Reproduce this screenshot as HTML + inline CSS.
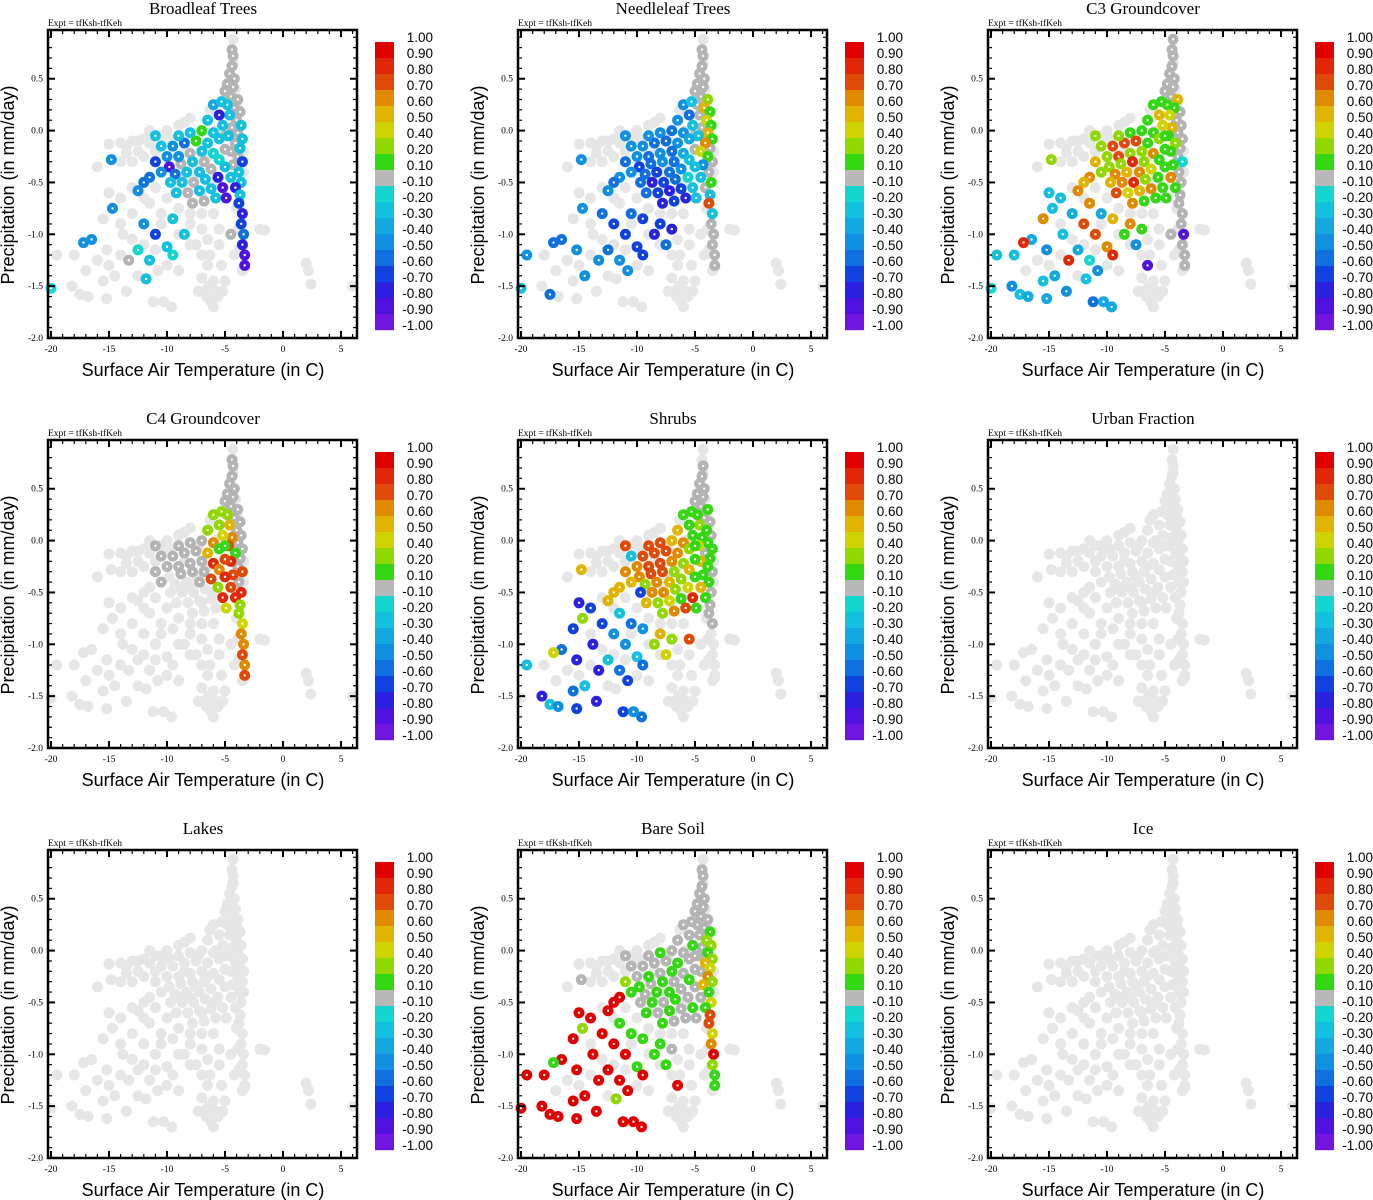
<!DOCTYPE html>
<html><head><meta charset="utf-8"><style>
html,body{margin:0;padding:0;background:#fff;}
svg{display:block;}
</style></head><body>
<svg id="fig" width="1373" height="1200" viewBox="0 0 1373 1200" xmlns="http://www.w3.org/2000/svg"></svg>
<script>
const _ = null;
const panelTitles = ["Broadleaf Trees","Needleleaf Trees","C3 Groundcover","C4 Groundcover","Shrubs","Urban Fraction","Lakes","Bare Soil","Ice"];
const xTicks = [-20,-15,-10,-5,0,5];
const yTicks = [0.5,0.0,-0.5,-1.0,-1.5,-2.0];
const yTickLabels = ["0.5","0.0","-0.5","-1.0","-1.5","-2.0"];
const cbLabels = ["1.00","0.90","0.80","0.70","0.60","0.50","0.40","0.20","0.10","-0.10","-0.20","-0.30","-0.40","-0.50","-0.60","-0.70","-0.80","-0.90","-1.00"];
const cbColors = ["#e00000","#e02808","#e04a08","#e08a00","#e0b400","#cfd400","#90d800","#34d812","#b8b8b8","#12d6cf","#14c0e0","#12a8e0","#1090e0","#1070e0","#1042e0","#2a20e0","#5012e0","#7214e0"];
// background grid cells (no-data cloud, light gray)
const fillX = [-12.5,-11.5,-10.5,-9.8,-13.5,-12,-11,-14,-13,-10,-9,-8.5,-8,
 -13,-12,-11,-10,-9,-8,-7,-6,-10.5,-9,-8,-7,-6.5,-5.5,-14,-13,-12,-11,-10,-9,-12.5,-14,-16,-15,-17,
 -6.6,-6.0,-5.8,-6.4,-7.3,-5.2,
 -4.0,-3.9,-3.8,-4.3,-4.1,-4.0,-3.4,-3.4,
 -6.5,-7.5,-8.5,-6,-7,-8,-9,-5.8,-6.3,-7.3];
const fillY = [-0.1,-0.12,-0.05,-0.08,-0.15,-0.25,-0.2,-0.3,-0.3,0.0,0.05,0.08,0.12,
 -0.55,-0.65,-0.55,-0.65,-0.75,-0.8,-0.8,-0.8,-0.9,-1.0,-1.1,-1.2,-1.05,-1.1,-0.9,-1.05,-1.1,-1.15,-1.3,-1.35,-1.4,-1.2,-1.25,-1.3,-1.35,
 -1.6,-1.7,-1.55,-1.5,-1.55,-1.55,
 -0.75,-0.95,-1.15,0.65,0.4,0.25,-0.2,-0.4,
 -0.25,-0.35,-0.2,-0.5,-0.6,-0.45,-0.45,0.0,0.2,-0.05];
const baseX = [-4.3,-4.4,-4.3,-4.4,-4.6,-4.2,-4.8,-4.3,-5.0,-4.5,-3.9,-4.8,-4.2,-3.7,-4.6,-4.0,-3.6,-4.4,-3.9,-4.7,-3.5,-4.1,-3.7,-4.5,-3.9,-3.5,-4.3,-3.8,-4.5,-3.6,-4.1,-3.7,
 -3.8,-3.5,-3.6,-3.4,-3.5,-3.3,-3.3,
 -6.0,-5.5,-6.5,-5.2,-7.0,-6.0,-8.0,-5.5,-7.5,-6.5,-8.5,-9.5,-5.0,-7.0,-6.0,-8.0,-9.0,-10.0,-5.5,-6.8,-7.8,-8.8,-9.8,-5.0,-6.2,-7.2,-8.3,-9.3,-10.5,-5.6,-6.7,-7.7,-8.7,-9.7,-5.2,-6.2,-7.2,-8.2,-9.2,-5.8,-6.8,-7.8,-4.9,-5.0,-5.3,-9.0,-10.5,-11.0,-11.5,-12.0,
 -13,-14,-15,-12,-11,-12.5,-13.5,-14.8,-16,-11.5,
 -15,-14,-12.5,-11.5,-13,-15.5,-14.7,-12,-10.5,-9.5,-11,-13.8,-16.5,-15.2,-12.5,-10,-8.5,-9.5,-11.5,-13.3,-17.2,-18,-8,-7,-7.5,-10.8,-14.5,
 -20,-19.5,-18.2,-17.5,-16.8,-15.5,-15.2,-13.5,-11.8,-11.2,-9.6,-10.3,
 -6.5,-6.0,-6.8,-6.2,-5.6,-7.0,-5.3,-5.0,-6.3,-4.2,-3.5,
 -2.0,-1.6,2.0,2.2,2.4,6.0,-3.3,-5.5,-4.5];
const baseY = [0.88,0.78,0.72,0.62,0.55,0.5,0.45,0.42,0.38,0.33,0.3,0.25,0.22,0.18,0.15,0.1,0.05,0.03,-0.02,-0.05,-0.08,-0.12,-0.17,-0.2,-0.25,-0.3,-0.33,-0.4,-0.45,-0.5,-0.55,-0.62,
 -0.7,-0.8,-0.9,-1.0,-1.1,-1.2,-1.3,
 0.25,0.15,0.1,0.05,0.0,-0.02,-0.02,-0.08,-0.1,-0.12,-0.12,-0.15,-0.18,-0.2,-0.22,-0.22,-0.25,-0.25,-0.28,-0.3,-0.3,-0.32,-0.35,-0.35,-0.37,-0.4,-0.4,-0.42,-0.4,-0.45,-0.47,-0.5,-0.5,-0.5,-0.55,-0.56,-0.58,-0.6,-0.6,-0.65,-0.68,-0.7,-0.65,-0.05,0.28,-0.05,-0.15,-0.3,-0.45,-0.5,
 -0.1,-0.12,-0.13,-0.08,-0.05,-0.2,-0.22,-0.28,-0.35,0.0,
 -0.6,-0.65,-0.58,-0.7,-0.8,-0.85,-0.75,-0.9,-0.8,-0.85,-1.0,-1.0,-1.05,-1.15,-1.15,-1.12,-1.0,-1.2,-1.25,-1.25,-1.08,-1.2,-0.9,-0.95,-1.1,-1.35,-1.4,
 -1.52,-1.2,-1.5,-1.58,-1.6,-1.45,-1.62,-1.55,-1.43,-1.65,-1.7,-1.65,
 -1.3,-1.45,-1.55,-1.65,-1.6,-1.42,-1.3,-1.45,-1.2,-1.2,-1.35,
 -0.95,-0.96,-1.28,-1.35,-1.48,-1.5,-1.32,-0.95,-1.0];
const broadleafVals = [_,0,0,0,0,0,0,0,0,0,0,-0.3,0,0,-0.25,0,-0.3,0,0,-0.25,-0.3,0,-0.25,0,0,-0.7,0,-0.3,-0.25,-0.3,-0.8,-0.25,
 -0.7,-0.75,-0.7,-0.6,-0.8,-0.85,-0.9,
 -0.4,-0.8,-0.3,-0.25,0.15,-0.25,-0.3,-0.3,0.15,-0.25,-0.6,-0.45,0,-0.25,-0.2,0,-0.5,-0.5,-0.2,0,-0.25,0,-0.85,-0.3,0,-0.25,-0.25,-0.6,-0.5,-0.8,-0.25,0,-0.3,-0.25,-0.85,-0.3,-0.3,0,-0.25,-0.25,0,0,-0.9,0,-0.3,-0.25,-0.3,-0.7,-0.55,-0.55,
 _,_,_,_,-0.3,_,_,-0.5,_,_,
 _,_,-0.45,_,_,_,-0.5,-0.5,_,-0.3,-0.7,_,-0.5,_,-0.2,-0.25,-0.25,-0.2,-0.3,0,-0.5,_,_,_,_,_,_,
 -0.2,_,_,_,_,_,_,_,-0.3,_,_,_,
 _,_,_,_,_,_,_,_,_,_,_,
 _,_,_,_,_,_,_,_,0];
const needleleafVals = [_,0,0,0,0,0,0,0,0,0,0.2,0,0.5,0.15,0,0.4,0.15,0,0.5,-0.3,0.15,0.6,0,0.4,0.15,0,-0.5,0,-0.3,0.15,0,-0.25,
 0.7,-0.3,0,0,0,0,0,
 -0.5,-0.6,-0.5,-0.3,-0.6,-0.5,-0.5,-0.4,-0.6,-0.5,-0.6,-0.5,0,-0.6,-0.4,-0.5,-0.6,-0.5,-0.3,-0.6,-0.5,-0.6,-0.7,-0.3,-0.5,-0.6,-0.7,-0.6,-0.5,-0.2,-0.6,-0.7,-0.8,-0.6,-0.3,-0.7,-0.8,-0.7,-0.6,-0.8,-0.7,-0.8,-0.3,0,-0.3,-0.5,-0.5,-0.6,-0.5,-0.6,
 _,_,_,_,-0.5,_,_,-0.5,_,_,
 _,_,-0.5,_,-0.6,_,-0.5,-0.7,-0.6,-0.7,-0.7,_,-0.6,-0.5,-0.6,-0.7,-0.8,-0.7,-0.5,-0.5,-0.6,_,-0.7,-0.8,-0.6,-0.5,-0.5,
 -0.3,-0.5,_,-0.6,_,_,_,_,_,_,_,_,
 _,_,_,_,_,_,_,_,_,_,_,
 _,_,_,_,_,_,_,_,_];
const c3Vals = [0,0,0,0,0,0,0,0,0,0,0.5,0.1,0.15,0,0.45,0,0,0.5,0,0.15,0,0.2,0,0.1,0,-0.2,0.1,0,0.6,0,0.15,0,
 0,0,0,-0.9,0,0,0,
 0.15,0.5,0.1,0.45,0.1,0.15,0.1,0.3,0.7,0.15,0.75,0.7,0.1,0.2,0.6,0.3,0.75,0.3,0.1,0.2,0.8,0.3,0.2,0.1,0.4,0.6,0.5,0.65,0.3,0.15,0.3,0.8,0.6,0.5,0.1,0.6,0.5,0.45,0.7,0.1,0.15,0.6,0.1,0.1,0.15,0.3,0.3,0.5,0.6,0.55,
 _,_,_,_,0.3,_,_,0.3,_,_,
 -0.3,-0.3,0.6,0.6,-0.4,0.6,-0.3,0.7,-0.4,0.55,0.7,-0.3,-0.4,-0.5,-0.4,0.6,0.15,0.8,-0.2,0.8,0.85,-0.3,0.6,0.1,-0.5,-0.5,-0.4,
 -0.2,-0.3,-0.5,-0.3,-0.4,-0.3,-0.4,-0.5,-0.3,-0.6,-0.4,-0.4,
 -0.9,_,_,_,_,_,_,_,_,_,_,
 _,_,_,_,_,_,_,_,0];
const c4Vals = [_,0,0,0,0,0,0,0,0,0,0,0.3,0,0,0.5,0,0,0.6,0,0.7,0,0.15,0,0.8,0,0.7,0.75,0,0.7,0.8,0.85,0.3,
 0.3,0.4,0.6,0.6,0.7,0.65,0.75,
 0.2,0.3,0.2,0.45,0,0.6,0,0.15,0,0.5,0,0,0.7,0,0.8,0,0,0,0.6,0,0,0,_,0.8,0.7,0,_,_,0,0.2,_,_,_,_,0.8,_,_,_,_,_,_,_,0.4,0.15,0.2,0,0,0,_,_,
 _,_,_,_,0,_,_,_,_,_,
 _,_,_,_,_,_,_,_,_,_,_,_,_,_,_,_,_,_,_,_,_,_,_,_,_,_,_,
 _,_,_,_,_,_,_,_,_,_,_,_,
 _,_,_,_,_,_,_,_,_,_,_,
 _,_,_,_,_,_,_,_,_];
const shrubVals = [_,_,0,0,0,0,0,0,0,0,0.1,0.15,0,0,0.2,0.1,0,0.15,0.1,0.4,0.1,0,0.1,0.5,0.1,0,0.15,0.1,0.5,0,0.15,0,
 0,0,_,_,_,_,_,
 0.15,0.15,0.5,0.15,0.5,0.6,0.7,0.2,0.75,0.6,0.7,0.7,0.15,0.6,0.2,0.75,0.7,0.6,0.5,0.2,0.7,0.75,0.6,0.15,0.2,0.5,0.65,0.2,0.55,0.45,0.2,0.65,0.6,-0.7,0.8,0.15,0.4,0.2,0.55,0.7,0.6,0.2,0.15,0.1,0.15,0.7,-0.3,0.6,0.55,0.5,
 _,_,_,_,0.75,_,_,0.55,_,_,
 -0.8,-0.7,0.5,-0.3,-0.7,-0.7,0.2,-0.5,-0.6,-0.5,-0.5,-0.8,-0.6,-0.8,-0.3,-0.3,0.2,-0.6,-0.6,-0.8,0.45,_,0.5,0.3,0.4,-0.7,-0.3,
 _,-0.3,-0.75,-0.3,-0.5,-0.6,-0.7,-0.8,_,-0.7,-0.6,-0.5,
 _,_,_,_,_,_,_,_,_,_,_,
 _,_,_,_,_,_,_,0.75,_];
const urbanVals = [];
const lakeVals = [];
const bareVals = [_,0,0,0,0,0,0,0,0,0,0,0,0,0.15,0,0.2,0.2,0,0.15,0,0.2,0.5,0.4,0,0.6,0.2,0.5,0.15,0,0.4,0.15,0.75,
 0.7,0.4,0.6,0.9,0.2,0.15,0.1,
 0,0,0,0.15,0,0,0.15,0,0,0.15,0,0,0,0.15,0,0,0.15,0,0.15,0,0.15,0,0.15,0,0,0.15,0.15,0,0.15,0,0.15,0,0.15,0,0.15,0,0.15,0,0.15,0,0,0.15,0,0,0,0,0,0.3,0.9,0.9,
 _,_,_,_,0,_,_,0,_,_,
 0.9,0.9,0.9,0.15,0.9,0.9,0.3,0.9,0.15,0.15,0.9,0.9,0.9,0.9,0.9,0.15,0.15,0.9,0.9,0.9,0.15,0.9,0.15,0,0.15,0.9,0.9,
 0.9,0.9,0.9,0.9,0.9,0.9,0.9,0.9,0.3,0.9,0.9,0.9,
 0.9,_,_,_,_,_,_,_,_,_,_,
 _,_,_,_,_,_,_,_,_];
const iceVals = [];
const panelVals = [broadleafVals,needleleafVals,c3Vals,c4Vals,shrubVals,urbanVals,lakeVals,bareVals,iceVals];
const panelNames = ["broadleaf","needleleaf","c3","c4","shrubs","urban","lakes","bare-soil","ice"];

const NS = "http://www.w3.org/2000/svg";
const svg = document.getElementById("fig");
function mk(tag, attrs, parent){ const e=document.createElementNS(NS,tag); for(const k in attrs) e.setAttribute(k,attrs[k]); (parent||svg).appendChild(e); return e; }
const XMIN=-20.26, XMAX=6.38, YMIN=-2.0, YMAX=0.97;
const BOXW=309, BOXH=308;
const R=5.5;
function colorFor(v){
  if(v===null||v===undefined) return "#e6e6e6";
  if(Math.abs(v)<0.1) return "#b4b4b4";
  let bin;
  if(v>=0.4) bin = 9-Math.floor(v*10+1e-6);
  else if(v>=0.2) bin=6;
  else if(v>0) bin=7;
  else bin = 7+Math.ceil(-v*10-1e-6);
  bin=Math.max(0,Math.min(17,bin));
  return cbColors[bin];
}
for(let p=0;p<9;p++){
  const ox = 48 + (p%3)*470, oy = 30 + Math.floor(p/3)*410;
  const sx = x => ox + (x-XMIN)/(XMAX-XMIN)*BOXW;
  const sy = y => oy + (YMAX-y)/(YMAX-YMIN)*BOXH;
  const g = mk("g",{});
  
  
  const t = mk("text",{x:ox+155,y:oy-16,"text-anchor":"middle","font-family":"Liberation Serif, serif","font-size":"17"},g);
  t.textContent = panelTitles[p];
  
  
  const ex = mk("text",{x:ox,y:oy-4,"font-family":"Liberation Serif, serif","font-size":"9.5"},g);
  ex.textContent = "Expt = tfKsh-tfKeh";
  
  
  const vals = panelVals[p];
  const pts = mk("g",{},g);
  
  
  for(let i=0;i<fillX.length;i++){
    const c = mk("circle",{cx:sx(fillX[i]).toFixed(1),cy:sy(fillY[i]).toFixed(1),r:R,fill:"#e6e6e6"},pts);
    
    
  }
  for(let layer=0; layer<3; layer++){
    for(let i=0;i<baseX.length;i++){
      const v = (i<vals.length)? vals[i] : null;
      const L = (v===null)?0:(Math.abs(v)<0.1?1:2);
      if(L!==layer) continue;
      const c = mk("circle",{cx:sx(baseX[i]).toFixed(1),cy:sy(baseY[i]).toFixed(1),r:R,fill:colorFor(v)},pts);
      
      
      if(layer>0) mk("circle",{cx:sx(baseX[i]).toFixed(1),cy:sy(baseY[i]).toFixed(1),r:1.2,fill:"#fff"},pts);
    }
  }
  const fr = mk("rect",{x:ox,y:oy,width:BOXW,height:BOXH,fill:"none",stroke:"#000","stroke-width":2.5},g);
  
  
  for(let xv=-20; xv<=6; xv++){
    const X=sx(xv), major = xv%5===0, len = major?7:4;
    mk("line",{x1:X,y1:oy+BOXH,x2:X,y2:oy+BOXH-len,stroke:"#000","stroke-width":major?2:1.2},g);
    mk("line",{x1:X,y1:oy,x2:X,y2:oy+len,stroke:"#000","stroke-width":major?2:1.2},g);
  }
  for(let k=-20;k<=9;k++){
    const yv=k/10, Y=sy(yv), major = k%5===0, len=major?7:4;
    mk("line",{x1:ox,y1:Y,x2:ox+len,y2:Y,stroke:"#000","stroke-width":major?2:1.2},g);
    mk("line",{x1:ox+BOXW,y1:Y,x2:ox+BOXW-len,y2:Y,stroke:"#000","stroke-width":major?2:1.2},g);
  }
  xTicks.forEach(xv=>{
    const tl = mk("text",{x:sx(xv),y:oy+BOXH+14,"text-anchor":"middle","font-family":"Liberation Serif, serif","font-size":"9.5"},g);
    tl.textContent = String(xv);
    
    
  });
  yTicks.forEach((yv,j)=>{
    const tl = mk("text",{x:ox-5,y:sy(yv)+3,"text-anchor":"end","font-family":"Liberation Serif, serif","font-size":"9.5"},g);
    tl.textContent = yTickLabels[j];
    
    
  });
  const xt = mk("text",{x:ox+155,y:oy+BOXH+38,"text-anchor":"middle","font-family":"Liberation Sans, sans-serif","font-size":"18"},g);
  xt.textContent = "Surface Air Temperature (in C)";
  
  
  const yt = mk("text",{x:0,y:0,"text-anchor":"middle","font-family":"Liberation Sans, sans-serif","font-size":"18",transform:`translate(${ox-34},${oy+155}) rotate(-90)`},g);
  yt.textContent = "Precipitation (in mm/day)";
  
  
  const cb = mk("g",{},g);
  
  
  const cbx = ox+327, cby = oy+12;
  cbColors.forEach((col,j)=>{
    const r = mk("rect",{x:cbx,y:cby+j*16,width:19,height:16.2,fill:col},cb);
    
    
  });
  cbLabels.forEach((lab,j)=>{
    const tl = mk("text",{x:cbx+58,y:cby+j*16,"text-anchor":"end","font-family":"Liberation Sans, sans-serif","font-size":"13.5"},cb);
    tl.textContent = lab;
    
    
  });
}
</script>
</body></html>
